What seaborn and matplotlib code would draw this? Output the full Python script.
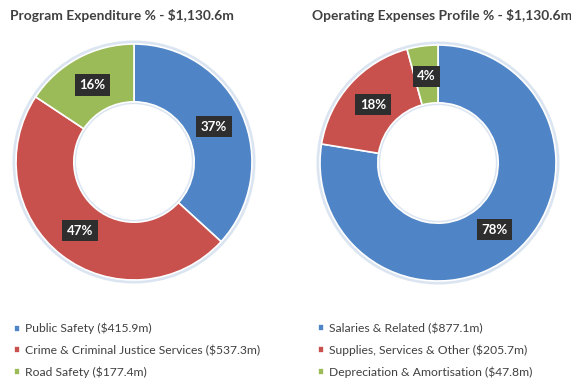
import matplotlib
matplotlib.use("Agg")
import matplotlib.pyplot as plt
import seaborn as sns
from matplotlib.patches import Circle
import numpy as np

# ---- data ----
left_title = "Program Expenditure % - $1,130.6m"
left_labels = ["Public Safety ($415.9m)",
               "Crime & Criminal Justice Services ($537.3m)",
               "Road Safety ($177.4m)"]
left_values = [415.9, 537.3, 177.4]
left_pct = ["37%", "47%", "16%"]

right_title = "Operating Expenses Profile % - $1,130.6m"
right_labels = ["Salaries & Related ($877.1m)",
                "Supplies, Services & Other ($205.7m)",
                "Depreciation & Amortisation ($47.8m)"]
right_values = [877.1, 205.7, 47.8]
right_pct = ["78%", "18%", "4%"]

colors = ["#4f85c6", "#c8504d", "#9bbb59"]

sns.set_style("white")
plt.rcParams['font.family'] = ['Lato', 'DejaVu Sans']

fig = plt.figure(figsize=(5.71, 3.86), dpi=100)
fig.patch.set_facecolor("white")

W, H = 571, 386
R = 118


def make_ax(cx, cy):
    pad = 1.04
    r = R * pad
    ax = fig.add_axes([(cx - r) / W, (H - cy - r) / H, 2 * r / W, 2 * r / H])
    ax.axis("off")
    return ax


def donut(ax, values, pcts):
    # soft glow
    ax.add_patch(Circle((0, 0), 1.015, fc="none", ec="#dbe5f1", lw=2.5, zorder=0))
    ax.add_patch(Circle((0, 0), 0.505, fc="none", ec="#dbe5f1", lw=2.5, zorder=0))
    wedges, _ = ax.pie(values, colors=colors, startangle=90, counterclock=False,
                       radius=1.0,
                       wedgeprops=dict(width=0.49, edgecolor="white", linewidth=1.2))
    for w, p in zip(wedges, pcts):
        ang = np.deg2rad((w.theta1 + w.theta2) / 2)
        x, y = 0.74 * np.cos(ang), 0.74 * np.sin(ang)
        ax.text(x, y, p, ha="center", va="center", color="white",
                fontsize=9.5, fontweight="bold",
                bbox=dict(boxstyle="square,pad=0.35", fc="#2e2e2e", ec="none"))
    ax.set_xlim(-1.04, 1.04)
    ax.set_ylim(-1.04, 1.04)
    return wedges


axL = make_ax(134, 162)
wL = donut(axL, left_values, left_pct)
axR = make_ax(438, 163)
wR = donut(axR, right_values, right_pct)

fig.text(10 / W, 1 - 15 / H, left_title, ha="left", va="center",
         fontsize=9.9, fontweight="bold", color="#404040")
fig.text(312 / W, 1 - 15 / H, right_title, ha="left", va="center",
         fontsize=9.9, fontweight="bold", color="#404040")

for wedges, labels, x0 in ((wL, left_labels, 14), (wR, right_labels, 318)):
    leg = fig.legend(wedges, labels, loc="upper left",
                     bbox_to_anchor=(x0 / W, 1 - 323 / H),
                     frameon=False, fontsize=8.7, handlelength=0.5,
                     handleheight=0.5, handletextpad=0.4, labelspacing=0.85,
                     borderaxespad=0, borderpad=0)
    for t in leg.get_texts():
        t.set_color("#404040")

fig.savefig("out.png", dpi=100, facecolor="white")
